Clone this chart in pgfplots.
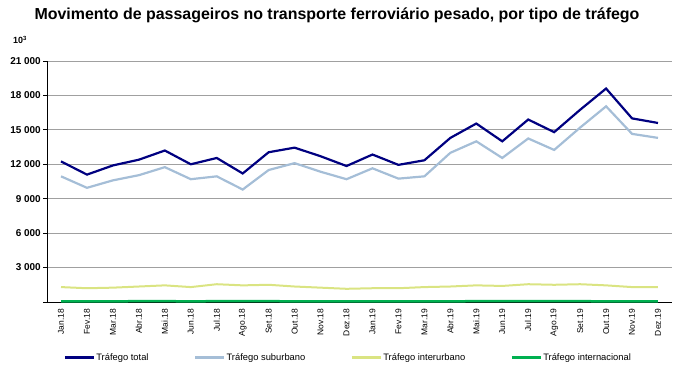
\documentclass[border=0pt]{standalone}
\usepackage{fontspec}
\setmainfont{Liberation Sans}
\usepackage{pgfplots}
\pgfplotsset{compat=1.18}
\definecolor{ctotal}{RGB}{0,0,128}
\definecolor{csub}{RGB}{165,190,215}
\definecolor{cinter}{RGB}{218,228,130}
\definecolor{cintl}{RGB}{0,176,80}
\definecolor{cgrid}{RGB}{160,160,160}
\begin{document}
\begin{tikzpicture}[x=1bp,y=1bp]
\useasboundingbox (0,0) rectangle (681,372);
\node[font=\bfseries\fontsize{16}{18}\selectfont] at (337,357) {Movimento de passageiros no transporte ferroviário pesado, por tipo de tráfego};
\node[font=\bfseries\fontsize{9}{10}\selectfont] at (20,332) {10\textsuperscript{3}};
\begin{axis}[
  at={(47bp,70bp)}, anchor=south west,
  scale only axis, width=625bp, height=241bp,
  xmin=-0.54, xmax=23.54, ymin=0, ymax=21000,
  scaled y ticks=false,
  axis x line=bottom, axis y line=left,
  axis line style={black, line width=0.8bp, -},
  xtick={0,...,23},
  xticklabels={Jan.18,Fev.18,Mar.18,Abr.18,Mai.18,Jun.18,Jul.18,Ago.18,Set.18,Out.18,Nov.18,Dez.18,Jan.19,Fev.19,Mar.19,Abr.19,Mai.19,Jun.19,Jul.19,Ago.19,Set.19,Out.19,Nov.19,Dez.19},
  xticklabel style={rotate=90, anchor=east, font=\fontsize{8.5}{9}\selectfont, inner sep=3bp},
  xtick style={draw=none},
  ytick={0,3000,6000,9000,12000,15000,18000,21000},
  yticklabels={,3 000,6 000,9 000,12 000,15 000,18 000,21 000},
  yticklabel style={font=\bfseries\fontsize{10}{11}\selectfont, inner sep=2bp},
  ytick style={black, line width=0.8bp},
  tick align=outside, major tick length=4bp,
  ymajorgrids, major grid style={cgrid, line width=0.9bp},
  legend style={at={(0.481,-0.232)}, anchor=center, draw=none, fill=none,
    legend columns=4, font=\fontsize{9.4}{10}\selectfont,
    /tikz/every even column/.append style={column sep=44bp},
    nodes={inner sep=1bp}},
  legend image code/.code={\draw[#1, line width=3bp] (0bp,0bp) -- (29bp,0bp);},
]
\addplot[ctotal, line width=2.2bp] coordinates {(0,12250)(1,11100)(2,11900)(3,12400)(4,13200)(5,12000)(6,12550)(7,11200)(8,13050)(9,13450)(10,12700)(11,11850)(12,12850)(13,11950)(14,12350)(15,14300)(16,15550)(17,14000)(18,15900)(19,14800)(20,16750)(21,18600)(22,16000)(23,15600)};
\addlegendentry{Tráfego total}
\addplot[csub, line width=2.2bp] coordinates {(0,10950)(1,9950)(2,10600)(3,11050)(4,11750)(5,10700)(6,10950)(7,9800)(8,11500)(9,12100)(10,11350)(11,10700)(12,11650)(13,10750)(14,10950)(15,13000)(16,14000)(17,12550)(18,14250)(19,13250)(20,15200)(21,17050)(22,14650)(23,14300)};
\addlegendentry{Tráfego suburbano}
\addplot[cinter, line width=2bp] coordinates {(0,1300)(1,1200)(2,1250)(3,1350)(4,1450)(5,1300)(6,1550)(7,1450)(8,1500)(9,1350)(10,1250)(11,1150)(12,1200)(13,1200)(14,1300)(15,1350)(16,1450)(17,1400)(18,1550)(19,1500)(20,1550)(21,1450)(22,1300)(23,1300)};
\addlegendentry{Tráfego interurbano}
\addplot[cintl, line width=2.5bp] coordinates {(0,60)(1,60)(2,60)(3,70)(4,70)(5,60)(6,70)(7,70)(8,70)(9,60)(10,60)(11,60)(12,60)(13,60)(14,60)(15,60)(16,70)(17,70)(18,70)(19,70)(20,70)(21,60)(22,60)(23,60)};
\addlegendentry{Tráfego internacional}
\end{axis}
\end{tikzpicture}
\end{document}
